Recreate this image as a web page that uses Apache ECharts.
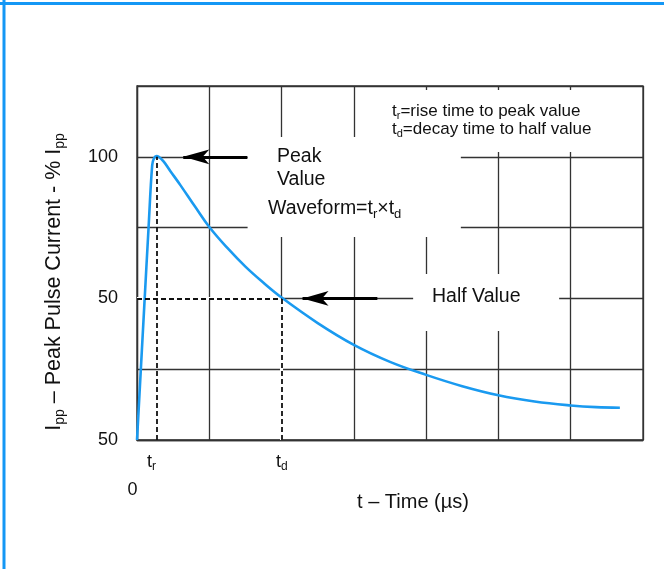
<!DOCTYPE html>
<html><head><meta charset="utf-8">
<script src="https://cdn.jsdelivr.net/npm/echarts@6/dist/echarts.min.js"></script>
<style>html,body{margin:0;padding:0;background:#fff}#c{width:664px;height:569px}</style>
</head><body><div id="c"></div>
<script>
// ---- data ----
const timeValues    = [0, 0.1, 0.16, 0.21, 0.235, 0.27, 0.3, 0.37, 0.46, 0.6, 0.8, 1, 1.25, 1.5, 1.75, 2, 2.5, 3, 3.5, 4, 4.5, 5, 5.5, 6, 6.35, 6.68];
const currentValues = [0, 47, 75, 97, 99.5, 100.3, 100, 98.3, 95, 90, 82.5, 75.2, 67.8, 61.2, 55.5, 50.3, 41.3, 33.6, 27.6, 23, 19, 15.8, 13.6, 12.2, 11.6, 11.4];
const xTickValues = [0, 1, 2, 3, 4, 5, 6, 7];
const yTickLabels = {0: '50', 50: '50', 100: '100'};
const riseTime = 0.27, decayTime = 2, peakValue = 100, halfValue = 50;
// white label boxes [x0, y0, x1, y1] in data units
const boxA = [3.3, 101.7, 6.95, 123.6];
const boxB = [1.53, 71.7, 4.48, 107];
const boxC = [3.82, 38.5, 5.84, 58.6];
// arrows [tailX, tipX, y]
const peakArrow = [1.526, 0.64, peakValue];
const halfArrow = [3.325, 2.29, halfValue];

const FONT = "'Liberation Sans', Arial, sans-serif";
const INK = '#111';
const chart = echarts.init(document.getElementById('c'), null, {renderer: 'canvas'});
const curve = timeValues.map((t, i) => [t, currentValues[i]]);
const box = b => [{coord: [b[0], b[1]]}, {coord: [b[2], b[3]]}];
const sub = (n, s) => ({
  n: {fontSize: n, fontFamily: FONT, lineHeight: Math.round(n * 1.2), color: INK},
  s: {fontSize: s, fontFamily: FONT, lineHeight: s + 1, verticalAlign: 'bottom', color: INK}
});

const option = {
  backgroundColor: '#fff',
  animation: false,
  grid: {left: 137, right: 21, top: 86, bottom: 129, outerBoundsMode: 'none', containLabel: false,
         show: true, borderColor: '#333', borderWidth: 1.3},
  xAxis: {type: 'value', min: 0, max: 7, interval: 1,
    axisLine: {show: true, lineStyle: {color: '#333', width: 1.3}},
    axisTick: {show: false}, axisLabel: {show: false},
    splitLine: {show: true, lineStyle: {color: '#333', width: 1.3}}},
  yAxis: {type: 'value', min: 0, max: 125, interval: 25,
    axisLine: {show: true, lineStyle: {color: '#333', width: 1.3}},
    axisTick: {show: false},
    axisLabel: {margin: 19, fontSize: 18, color: INK, fontFamily: FONT,
      formatter: v => (yTickLabels[v] !== undefined ? yTickLabels[v] : '')},
    splitLine: {show: true, lineStyle: {color: '#333', width: 1.3}}},
  series: [
    { // white boxes behind the annotation text
      type: 'line', data: [], silent: true,
      markArea: {silent: true, z: 1, itemStyle: {color: '#fff', opacity: 1},
        data: [box(boxA), box(boxB), box(boxC)]},
      markLine: {silent: true, z: 1.5, symbol: 'none', label: {show: false},
        lineStyle: {color: '#fff', width: 3, type: 'solid'},
        data: [
          [{coord: [0, halfValue]}, {coord: [decayTime, halfValue]}],
          [{coord: [decayTime, 0]}, {coord: [decayTime, halfValue]}]
        ]}
    },
    {
      name: 'Ipp', type: 'line', data: curve, smooth: 0.4, symbol: 'none', z: 2,
      lineStyle: {color: '#1a9af0', width: 2.6}
    },
    { // dashed guide lines
      type: 'line', data: [], silent: true,
      markLine: {silent: true, z: 3, symbol: 'none', label: {show: false},
        lineStyle: {color: INK, width: 1.8, type: [5, 3]},
        data: [
          [{coord: [0, halfValue]}, {coord: [decayTime, halfValue]}],
          [{coord: [decayTime, 0]}, {coord: [decayTime, halfValue]}],
          [{coord: [riseTime, 0]}, {coord: [riseTime, peakValue]}]
        ]}
    },
    { // arrows
      type: 'line', data: [], silent: true,
      markLine: {silent: true, z: 3, symbol: ['none', 'arrow'], symbolSize: [11, 26],
        label: {show: false},
        lineStyle: {color: '#000', width: 3, type: 'solid'},
        itemStyle: {color: '#000'},
        data: [
          [{coord: [peakArrow[0], peakArrow[2]]}, {coord: [peakArrow[1], peakArrow[2]]}],
          [{coord: [halfArrow[0], halfArrow[2]]}, {coord: [halfArrow[1], halfArrow[2]]}]
        ]}
    }
  ],
  graphic: [
    {type: 'line', silent: true, shape: {x1: 0, y1: 3.5, x2: 664, y2: 3.5}, style: {stroke: '#1497f5', lineWidth: 3}},
    {type: 'line', silent: true, shape: {x1: 4, y1: 0, x2: 4, y2: 569}, style: {stroke: '#1497f5', lineWidth: 3}},
    {type: 'text', x: 277, y: 157, silent: true, z: 10,
      style: {text: 'Peak', font: '19.5px ' + FONT, fill: INK, textVerticalAlign: 'middle'}},
    {type: 'text', x: 277, y: 180, silent: true, z: 10,
      style: {text: 'Value', font: '19.5px ' + FONT, fill: INK, textVerticalAlign: 'middle'}},
    {type: 'text', x: 268, y: 209, silent: true, z: 10,
      style: {text: '{n|Waveform=t}{s|r}{n|×t}{s|d}', textVerticalAlign: 'middle', fill: INK, rich: sub(19.5, 13)}},
    {type: 'text', x: 432, y: 297, silent: true, z: 10,
      style: {text: 'Half Value', font: '19.5px ' + FONT, fill: INK, textVerticalAlign: 'middle'}},
    {type: 'text', x: 392, y: 111, silent: true, z: 10,
      style: {text: '{n|t}{s|r}{n|=rise time to peak value}', textVerticalAlign: 'middle', fill: INK, rich: sub(17, 11)}},
    {type: 'text', x: 392, y: 129.5, silent: true, z: 10,
      style: {text: '{n|t}{s|d}{n|=decay time to half value}', textVerticalAlign: 'middle', fill: INK, rich: sub(17, 11)}},
    {type: 'text', x: 147, y: 462, silent: true, z: 10,
      style: {text: '{n|t}{s|r}', textVerticalAlign: 'middle', fill: INK, rich: sub(18, 12)}},
    {type: 'text', x: 276, y: 462, silent: true, z: 10,
      style: {text: '{n|t}{s|d}', textVerticalAlign: 'middle', fill: INK, rich: sub(18, 12)}},
    {type: 'text', x: 132.5, y: 490, silent: true, z: 10,
      style: {text: String(xTickValues[0]), font: '18px ' + FONT, fill: INK, textAlign: 'center', textVerticalAlign: 'middle'}},
    {type: 'text', x: 413, y: 502, silent: true, z: 10,
      style: {text: 't – Time (µs)', font: '20px ' + FONT, fill: INK, textAlign: 'center', textVerticalAlign: 'middle'}},
    {type: 'text', x: 54, y: 282, rotation: Math.PI / 2, silent: true, z: 10,
      style: {text: '{n|I}{s|pp}{n| – Peak Pulse Current - % I}{s|pp}', textAlign: 'center', textVerticalAlign: 'middle', fill: INK,
        rich: sub(21.5, 14)}}
  ]
};
chart.setOption(option);
</script>
</body></html>
